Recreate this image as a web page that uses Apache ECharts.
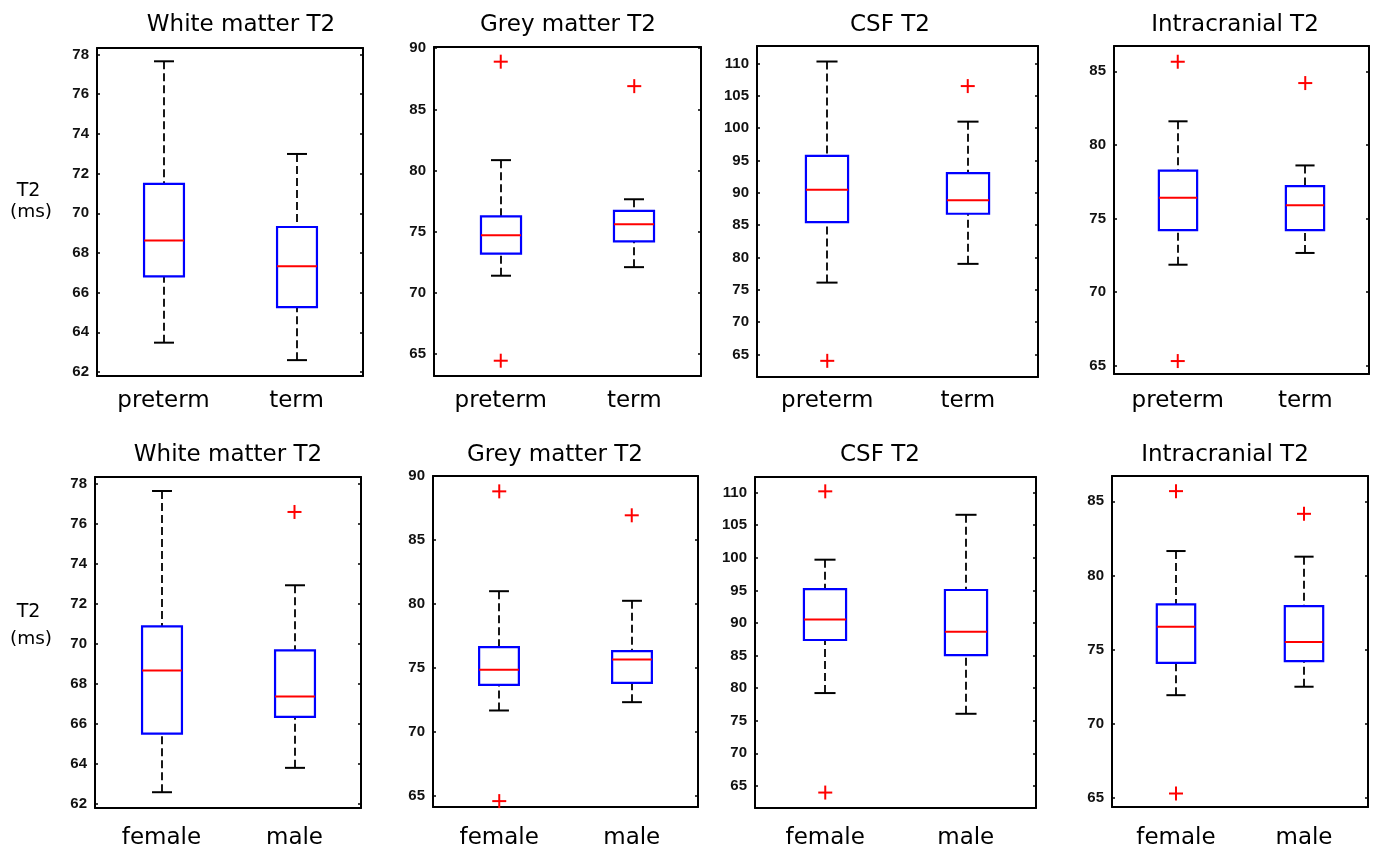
<!DOCTYPE html>
<html>
<head>
<meta charset="utf-8">
<script src="https://cdn.jsdelivr.net/npm/echarts@6/dist/echarts.min.js"></script>
<style>
  html, body { margin: 0; padding: 0; background: #ffffff; }
  #chart { width: 1378px; height: 850px; }
</style>
</head>
<body>
<div id="chart"></div>
<script>
// ---- Group labels and titles ----
const birthGroups = ['preterm', 'term'];
const sexGroups = ['female', 'male'];
const tissueTitles = ['White matter T2', 'Grey matter T2', 'CSF T2', 'Intracranial T2'];
const yNameLines = ['T2', '(ms)'];

// ---- Tick values of each tissue's T2 axis (ms) ----
const wmTicks = [62, 64, 66, 68, 70, 72, 74, 76, 78];
const gmTicks = [65, 70, 75, 80, 85, 90];
const csfTicks = [65, 70, 75, 80, 85, 90, 95, 100, 105, 110];
const icTicks = [65, 70, 75, 80, 85];

// ---- Box statistics: [lower whisker, Q1, median, Q3, upper whisker] ----
// Preterm vs term
const wmBirthStats = [[63.48, 66.82, 68.63, 71.48, 77.66], [62.60, 65.27, 67.33, 69.31, 72.99]];
const gmBirthStats = [[71.40, 73.20, 74.70, 76.25, 80.85], [72.10, 74.20, 75.60, 76.70, 77.65]];
const csfBirthStats = [[76.10, 85.45, 90.45, 95.70, 110.30], [79.00, 86.75, 88.85, 93.05, 101.00]];
const icBirthStats = [[71.85, 74.20, 76.40, 78.25, 81.60], [72.65, 74.20, 75.90, 77.20, 78.60]];
// Female vs male
const wmSexStats = [[62.57, 65.50, 68.66, 70.87, 77.65], [63.79, 66.34, 67.36, 69.67, 72.93]];
const gmSexStats = [[71.68, 73.68, 74.86, 76.63, 81.00], [72.33, 73.84, 75.67, 76.32, 80.25]];
const csfSexStats = [[79.24, 87.38, 90.54, 95.20, 99.71], [76.06, 85.07, 88.65, 95.06, 106.60]];
const icSexStats = [[71.93, 74.11, 76.54, 78.05, 81.65], [72.50, 74.22, 75.51, 77.94, 81.27]];

// ---- Outliers per group ----
const wmBirthOutliers = [[], []];
const gmBirthOutliers = [[88.9, 64.45], [86.9]];
const csfBirthOutliers = [[64.0], [106.5]];
const icBirthOutliers = [[85.65, 65.3], [84.2]];
const wmSexOutliers = [[], [76.6]];
const gmSexOutliers = [[88.8, 64.6], [86.93]];
const csfSexOutliers = [[110.2, 63.97], []];
const icSexOutliers = [[85.69, 65.3], [84.16]];

// ---- Panel layout (plot rectangles, axis limits, title anchors) ----
const panels = [
  { groups: birthGroups, stats: wmBirthStats, outliers: wmBirthOutliers, ticks: wmTicks, title: tissueTitles[0],
    yMin: 61.8, yMax: 78.33, grid: { left: 97, top: 48, width: 266, height: 328 }, titleX: 241, titleY: 25, labelMargin: 14 },
  { groups: birthGroups, stats: gmBirthStats, outliers: gmBirthOutliers, ticks: gmTicks, title: tissueTitles[1],
    yMin: 63.2, yMax: 90.1, grid: { left: 434, top: 47, width: 267, height: 329 }, titleX: 568, titleY: 25, labelMargin: 14 },
  { groups: birthGroups, stats: csfBirthStats, outliers: csfBirthOutliers, ticks: csfTicks, title: tissueTitles[2],
    yMin: 61.5, yMax: 112.7, grid: { left: 757, top: 46, width: 281, height: 331 }, titleX: 890, titleY: 25, labelMargin: 13 },
  { groups: birthGroups, stats: icBirthStats, outliers: icBirthOutliers, ticks: icTicks, title: tissueTitles[3],
    yMin: 64.42, yMax: 86.72, grid: { left: 1114, top: 46, width: 255, height: 328 }, titleX: 1235, titleY: 25, labelMargin: 16 },
  { groups: sexGroups, stats: wmSexStats, outliers: wmSexOutliers, ticks: wmTicks, title: tissueTitles[0],
    yMin: 61.78, yMax: 78.35, grid: { left: 95, top: 477, width: 266, height: 331 }, titleX: 228, titleY: 455, labelMargin: 19 },
  { groups: sexGroups, stats: gmSexStats, outliers: gmSexOutliers, ticks: gmTicks, title: tissueTitles[1],
    yMin: 64.14, yMax: 90.0, grid: { left: 433, top: 476, width: 265, height: 331 }, titleX: 555, titleY: 455, labelMargin: 20 },
  { groups: sexGroups, stats: csfSexStats, outliers: csfSexOutliers, ticks: csfTicks, title: tissueTitles[2],
    yMin: 61.6, yMax: 112.4, grid: { left: 755, top: 477, width: 281, height: 331 }, titleX: 880, titleY: 455, labelMargin: 19 },
  { groups: sexGroups, stats: icSexStats, outliers: icSexOutliers, ticks: icTicks, title: tissueTitles[3],
    yMin: 64.39, yMax: 86.71, grid: { left: 1112, top: 476, width: 256, height: 331 }, titleX: 1225, titleY: 455, labelMargin: 20 }
];

const BOX_BLUE = '#0000ff';
const MEDIAN_RED = '#ff0000';
const INK = '#000000';
const FONT = '"DejaVu Sans", "Liberation Sans", sans-serif';
const TICK_FONT = '"Liberation Sans", Arial, sans-serif';

// Box, median, dashed whiskers and half-width caps (MATLAB boxplot style)
function renderBox(params, api) {
  const idx = api.value(0);
  const lo = api.coord([idx, api.value(1)]);
  const q1 = api.coord([idx, api.value(2)]);
  const md = api.coord([idx, api.value(3)]);
  const q3 = api.coord([idx, api.value(4)]);
  const hi = api.coord([idx, api.value(5)]);
  const band = api.size([1, 0])[0];
  const bw = band * 0.3;
  const cw = bw / 2;
  const cx = Math.round(md[0]);
  const whisker = { stroke: INK, lineWidth: 1.8, lineDash: [8, 4] };
  const cap = { stroke: INK, lineWidth: 2 };
  return {
    type: 'group',
    children: [
      { type: 'line', shape: { x1: cx, y1: hi[1], x2: cx, y2: q3[1] }, style: whisker },
      { type: 'line', shape: { x1: cx, y1: lo[1], x2: cx, y2: q1[1] }, style: whisker },
      { type: 'line', shape: { x1: cx - cw / 2, y1: hi[1], x2: cx + cw / 2, y2: hi[1] }, style: cap },
      { type: 'line', shape: { x1: cx - cw / 2, y1: lo[1], x2: cx + cw / 2, y2: lo[1] }, style: cap },
      { type: 'rect', shape: { x: cx - bw / 2, y: q3[1], width: bw, height: q1[1] - q3[1] },
        style: { fill: 'none', stroke: BOX_BLUE, lineWidth: 2.2 } },
      { type: 'line', shape: { x1: cx - bw / 2, y1: md[1], x2: cx + bw / 2, y2: md[1] },
        style: { stroke: MEDIAN_RED, lineWidth: 2 } }
    ]
  };
}

// Red '+' outlier markers
function renderOutlier(params, api) {
  const p = api.coord([api.value(0), api.value(1)]);
  const h = 7;
  const s = { stroke: MEDIAN_RED, lineWidth: 2 };
  return {
    type: 'group',
    children: [
      { type: 'line', shape: { x1: p[0] - h, y1: p[1], x2: p[0] + h, y2: p[1] }, style: s },
      { type: 'line', shape: { x1: p[0], y1: p[1] - h, x2: p[0], y2: p[1] + h }, style: s }
    ]
  };
}

const grids = [], xAxes = [], yAxes = [], series = [], graphics = [];
const frameLine = { show: true, onZero: false, lineStyle: { color: INK, width: 2 } };

panels.forEach((p, i) => {
  grids.push(Object.assign({ containLabel: false }, p.grid));

  xAxes.push({
    gridIndex: i, type: 'category', data: p.groups, position: 'bottom',
    axisLine: frameLine, axisTick: { show: false }, splitLine: { show: false },
    axisLabel: { fontFamily: FONT, fontSize: 23, color: INK, margin: p.labelMargin }
  });
  xAxes.push({
    gridIndex: i, type: 'category', data: p.groups, position: 'top',
    axisLine: frameLine, axisTick: { show: false }, axisLabel: { show: false }, splitLine: { show: false }
  });

  const tickStyle = { show: true, inside: true, length: 3, customValues: p.ticks, lineStyle: { color: INK, width: 1.5 } };
  yAxes.push({
    gridIndex: i, type: 'value', position: 'left', min: p.yMin, max: p.yMax,
    axisLine: frameLine, axisTick: tickStyle, splitLine: { show: false },
    axisLabel: { customValues: p.ticks, fontFamily: TICK_FONT, fontWeight: 'bold', fontSize: 15, color: '#111', margin: 8 }
  });
  yAxes.push({
    gridIndex: i, type: 'value', position: 'right', min: p.yMin, max: p.yMax,
    axisLine: frameLine, axisTick: tickStyle, splitLine: { show: false }, axisLabel: { show: false }
  });

  series.push({
    type: 'custom', name: p.title, xAxisIndex: i * 2, yAxisIndex: i * 2,
    renderItem: renderBox, encode: { x: 0, y: [1, 2, 3, 4, 5] },
    data: p.stats.map((s, k) => [k].concat(s)), clip: false, silent: true
  });
  const pts = [];
  p.outliers.forEach((vals, k) => vals.forEach(v => pts.push([k, v])));
  series.push({
    type: 'custom', name: p.title + ' outliers', xAxisIndex: i * 2, yAxisIndex: i * 2,
    renderItem: renderOutlier, encode: { x: 0, y: 1 }, data: pts, clip: false, silent: true
  });

  graphics.push({
    type: 'text', x: p.titleX, y: p.titleY,
    style: { text: p.title, fill: INK, font: '23px ' + FONT,
      align: 'center', verticalAlign: 'middle', textAlign: 'center', textVerticalAlign: 'middle' }
  });
});

// Y-axis unit label for each row
[{ y1: 191, y2: 212 }, { y1: 612, y2: 639 }].forEach(r => {
  graphics.push({ type: 'text', x: 28.5, y: r.y1,
    style: { text: yNameLines[0], fill: INK, font: '19px ' + FONT,
      align: 'center', verticalAlign: 'middle', textAlign: 'center', textVerticalAlign: 'middle' } });
  graphics.push({ type: 'text', x: 31, y: r.y2,
    style: { text: yNameLines[1], fill: INK, font: '18.5px ' + FONT,
      align: 'center', verticalAlign: 'middle', textAlign: 'center', textVerticalAlign: 'middle' } });
});

const chart = echarts.init(document.getElementById('chart'), null, { renderer: 'canvas' });
chart.setOption({
  backgroundColor: '#ffffff',
  animation: false,
  grid: grids,
  xAxis: xAxes,
  yAxis: yAxes,
  series: series,
  graphic: { elements: graphics }
});
</script>
</body>
</html>
